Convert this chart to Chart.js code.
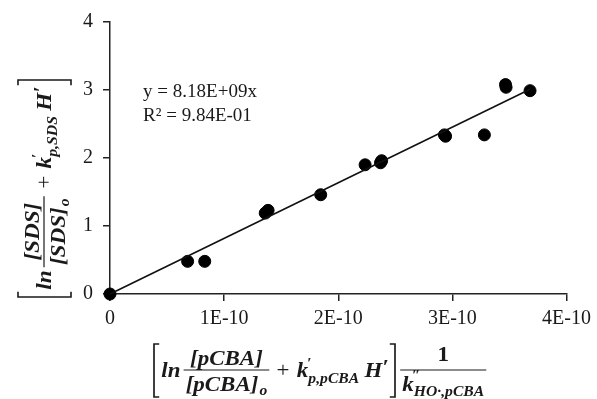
<!DOCTYPE html>
<html><head><meta charset="utf-8">
<script src="https://cdn.jsdelivr.net/npm/chart.js@4/dist/chart.umd.min.js"></script>
<style>html,body{margin:0;padding:0;background:#fff}#wrap{width:597px;height:399px;position:relative}</style>
</head><body><div id="wrap"><canvas id="c" width="597" height="399"></canvas></div>
<script>
// ---- data ----
const xValues = [0, 0.68e-10, 0.83e-10, 1.36e-10, 1.385e-10, 1.846e-10, 2.235e-10, 2.37e-10, 2.38e-10, 2.93e-10, 2.94e-10, 3.28e-10, 3.465e-10, 3.47e-10, 3.68e-10];
const yValues = [0, 0.48, 0.48, 1.19, 1.23, 1.46, 1.90, 1.93, 1.96, 2.34, 2.32, 2.34, 3.08, 3.04, 2.99];
const xTickValues = [0, 1e-10, 2e-10, 3e-10, 4e-10];
const xTickLabels = ['0', '1E-10', '2E-10', '3E-10', '4E-10'];
const yTickValues = [0, 1, 2, 3, 4];
const yTickLabels = ['0', '1', '2', '3', '4'];
const trendSlope = 8.18e9;
const trendRange = [0, 3.68e-10];
const equationLines = ['y = 8.18E+09x', 'R\u00B2 = 9.84E-01'];
const equationAnchor = [0.29e-10, 2.97];

const SERIF = '"Liberation Serif", "Times New Roman", serif';
const TEXT = '#1a1a1a';
function fnt(size, bold, italic) { return (italic ? 'italic ' : '') + (bold ? 'bold ' : '') + size + 'px ' + SERIF; }
function mw(ctx, s, f) { ctx.font = f; return ctx.measureText(s).width; }
function bracket(ctx, x, top, bottom, dir) {
  ctx.beginPath();
  ctx.moveTo(x + dir * 5, top); ctx.lineTo(x, top); ctx.lineTo(x, bottom); ctx.lineTo(x + dir * 5, bottom);
  ctx.stroke();
}
// draws formula starting at local x=0; returns x of the right bracket
function drawFormula(ctx, B, A, name, sub, tail, draw) {
  const M = fnt(22, true, true), S = fnt(15, true, true), P = fnt(15, true, false), R = fnt(22, false, false);
  const txt = (s, x, y, f) => { ctx.font = f; if (draw) ctx.fillText(s, x, y); return ctx.measureText(s).width; };
  ctx.fillStyle = TEXT; ctx.strokeStyle = TEXT; ctx.lineWidth = 1.6; ctx.textBaseline = 'alphabetic'; ctx.textAlign = 'left';
  if (draw) bracket(ctx, 0, A - 26, A + 27, 1);
  let x = 7;
  x += txt('ln', x, B, M) + 3;
  const num = '[' + name + ']';
  const nW = mw(ctx, num, M);
  const dW = mw(ctx, num, M) + 1 + mw(ctx, 'o', S);
  const fw = Math.max(nW, dW) + 4;
  ctx.lineWidth = 1.2;
  if (draw) { ctx.beginPath(); ctx.moveTo(x, A); ctx.lineTo(x + fw, A); ctx.stroke(); }
  txt(num, x + (fw - nW) / 2, A - 5, M);
  const dx = x + (fw - dW) / 2;
  const dn = txt(num, dx, A + 21, M);
  txt('o', dx + dn + 1, A + 25, S);
  x += fw + 7;
  x += txt('+', x, B, R) + 7;
  const kw = txt('k', x, B, M);
  txt('\u2032', x + kw - 1, B - 9, P);
  x += kw + txt(sub, x + kw, B + 6, S) + 5;
  x += txt('H', x, B, M);
  x += txt('\u2032', x, B - 3, M) + 6;
  const right = x;
  ctx.lineWidth = 1.6;
  if (draw) bracket(ctx, x, A - 26, A + 27, -1);
  if (tail) {
    x += 5;
    const k2 = mw(ctx, 'k', M), s2 = mw(ctx, 'HO\u00B7,pCBA', S);
    const fw2 = k2 + s2 + 4;
    ctx.lineWidth = 1.2;
    if (draw) { ctx.beginPath(); ctx.moveTo(x, A); ctx.lineTo(x + fw2, A); ctx.stroke(); }
    const oneW = mw(ctx, '1', fnt(22, true, false));
    txt('1', x + (fw2 - oneW) / 2, A - 9, fnt(22, true, false));
    txt('k', x + 2, A + 21, M);
    txt('\u2033', x + 2 + k2 - 2, A + 10, P);
    txt('HO\u00B7,pCBA', x + 2 + k2, A + 26, S);
  }
  return right;
}
function placeFormula(ctx, x0, xRight, B, A, name, sub, tail) {
  const w = drawFormula(ctx, B, A, name, sub, tail, false);
  ctx.translate(x0, 0);
  ctx.scale((xRight - x0) / w, 1);
  drawFormula(ctx, B, A, name, sub, tail, true);
}

const annot = {
  id: 'annot',
  afterDraw(chart) {
    const ctx = chart.ctx, xs = chart.scales.x, ys = chart.scales.y;
    ctx.save();
    ctx.fillStyle = TEXT; ctx.font = '19px ' + SERIF; ctx.textBaseline = 'middle'; ctx.textAlign = 'left';
    const ex = xs.getPixelForValue(equationAnchor[0]), ey = ys.getPixelForValue(equationAnchor[1]);
    equationLines.forEach((l, i) => ctx.fillText(l, ex, ey + i * 24));
    ctx.restore();
    ctx.save();
    placeFormula(ctx, 154, 395, 377, 370, 'pCBA', 'p,pCBA', true);
    ctx.restore();
    ctx.save();
    ctx.rotate(-Math.PI / 2);
    placeFormula(ctx, -297, -80, 51, 44, 'SDS', 'p,SDS', false);
    ctx.restore();
  }
};

const pts = xValues.map((x, i) => ({ x: x, y: yValues[i] }));
const trend = trendRange.map(x => ({ x: x, y: trendSlope * x }));

new Chart(document.getElementById('c'), {
  type: 'scatter',
  data: {
    datasets: [
      { type: 'line', data: trend, borderColor: '#111', borderWidth: 1.6, pointRadius: 0, fill: false, clip: false },
      { data: pts, backgroundColor: '#000', borderColor: '#000', pointRadius: 6, pointHoverRadius: 6, clip: false }
    ]
  },
  options: {
    responsive: false, animation: false, devicePixelRatio: 1,
    layout: { padding: { top: 20, right: 27, left: 0, bottom: 0 } },
    plugins: { legend: { display: false }, tooltip: { enabled: false } },
    scales: {
      x: {
        type: 'linear', min: 0, max: 4e-10,
        afterBuildTicks: s => { s.ticks = xTickValues.map(v => ({ value: v })); },
        afterFit: s => { s.height = 105; },
        ticks: { callback: (v, i) => xTickLabels[i], color: TEXT, font: { family: SERIF, size: 20 }, padding: 6, maxRotation: 0, autoSkip: false },
        grid: { display: true, drawOnChartArea: false, drawTicks: true, tickLength: 7, color: '#222', lineWidth: 1.5 },
        border: { display: true, color: '#222', width: 1.5 }
      },
      y: {
        type: 'linear', min: 0, max: 4,
        afterBuildTicks: s => { s.ticks = yTickValues.map(v => ({ value: v })); },
        afterFit: s => { s.width = 110; },
        ticks: { callback: (v, i) => yTickLabels[i], color: TEXT, font: { family: SERIF, size: 20 }, padding: 10 },
        grid: { display: true, drawOnChartArea: false, drawTicks: true, tickLength: 7, color: '#222', lineWidth: 1.5 },
        border: { display: true, color: '#222', width: 1.5 }
      }
    }
  },
  plugins: [annot]
});
</script></body></html>
